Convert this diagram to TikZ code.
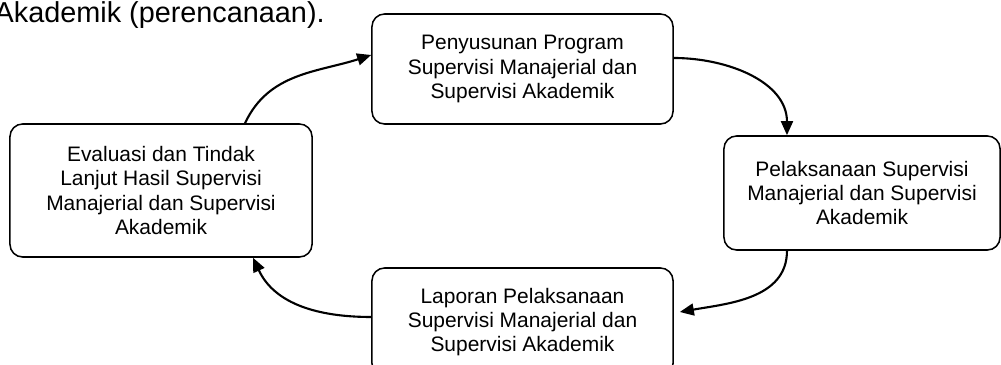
\documentclass[tikz,border=0pt]{standalone}
\usepackage{fontspec}
\setmainfont{Liberation Sans}
\usetikzlibrary{arrows.meta}
\begin{document}
\begin{tikzpicture}[x=0.025cm, y=-0.025cm,
	kotak/.style={draw=black, text=black, shape=rectangle, rounded corners=9pt, line width=1.1pt, align=center, font=\fontsize{14.9}{17.1}\selectfont},
	panah/.style={-{Triangle[length=10pt,width=8.5pt]}, line width=1.5pt}]
	\clip (0,0) rectangle (1001,365);
	\node[anchor=base east, inner sep=0pt, font=\fontsize{20.5}{24}\selectfont] (judul) at (325,23) {Akademik (perencanaan).};

	\node[kotak, minimum width=7.525cm, minimum height=2.75cm] (p_susun) at (522.5,69) {Penyusunan Program\\Supervisi Manajerial dan\\Supervisi Akademik};
	\node[kotak, minimum width=6.9cm, minimum height=2.85cm] (p_laksana) at (862,193) {Pelaksanaan Supervisi\\Manajerial dan Supervisi\\Akademik};
	\node[kotak, minimum width=7.525cm, minimum height=2.7cm] (p_lapor) at (522.5,322) {Laporan Pelaksanaan\\Supervisi Manajerial dan\\Supervisi Akademik};
	\node[kotak, minimum width=7.55cm, minimum height=3.325cm] (p_eval) at (161,190.5) {Evaluasi dan Tindak\\Lanjut Hasil Supervisi\\Manajerial dan Supervisi\\Akademik};

	\draw[panah] ([xshift=2.1cm]p_eval.north) to[out=65, in=198] ([yshift=0.35cm]p_susun.west);
	\draw[panah] ([yshift=0.275cm]p_susun.east) to[out=0, in=90] ([xshift=-1.875cm]p_laksana.north);
	\draw[panah] ([xshift=-1.875cm]p_laksana.south) to[out=-90, in=10] ([xshift=0.15cm, yshift=0.25cm]p_lapor.east);
	\draw[panah] ([yshift=0.125cm]p_lapor.west) to[out=180, in=-65] ([xshift=2.3cm]p_eval.south);
\end{tikzpicture}
\end{document}
